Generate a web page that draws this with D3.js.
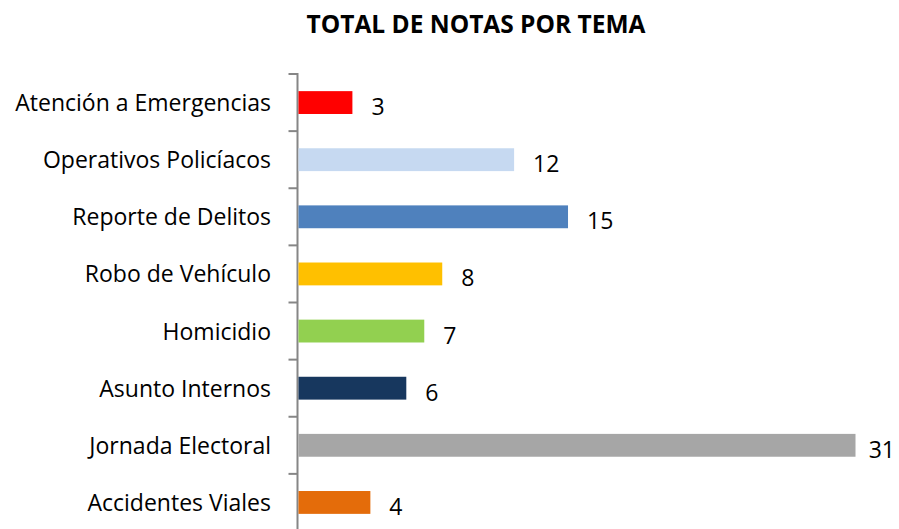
<!DOCTYPE html>
<html>
<head>
<meta charset="utf-8">
<script src="https://cdn.jsdelivr.net/npm/d3@7"></script>
<style>
  body { margin: 0; background: #fff; }
  svg { display: block; }
</style>
</head>
<body>
<div id="chart"></div>
<script>
  // chart data, top to bottom
  var categories = ["Atención a Emergencias", "Operativos Policíacos", "Reporte de Delitos",
    "Robo de Vehículo", "Homicidio", "Asunto Internos", "Jornada Electoral", "Accidentes Viales"];
  var values = [3, 12, 15, 8, 7, 6, 31, 4];
  var colors = ["#FF0000", "#C6D9F1", "#4F81BD", "#FFC000", "#92D050", "#17375E", "#A6A6A6", "#E46C0A"];
  var title = "TOTAL DE NOTAS POR TEMA";

  var width = 899, height = 529;
  var axisX = 297.5;

  var svg = d3.select("#chart").append("svg")
    .attr("width", width)
    .attr("height", height);

  // title
  svg.append("text")
    .attr("x", 476)
    .attr("y", 33)
    .attr("text-anchor", "middle")
    .style("font-family", "'Open Sans', sans-serif")
    .style("font-weight", "bold")
    .style("font-size", "24.5px")
    .attr("fill", "#000")
    .text(title);

  var y = d3.scaleBand()
    .domain(categories)
    .range([74, 531])
    .paddingInner(0.6)
    .paddingOuter(0.3);

  var x = d3.scaleLinear()
    .domain([0, 31])
    .range([0, 557]);

  // y axis with ticks between categories
  var g = svg.append("g");
  var edges = d3.range(categories.length + 1).map(function(i) { return 74 + i * (457 / categories.length); });

  g.append("line")
    .attr("x1", axisX).attr("x2", axisX)
    .attr("y1", 73).attr("y2", height)
    .style("stroke", "#868686")
    .style("stroke-width", 2);

  g.selectAll(".tick")
    .data(edges)
    .enter()
    .append("line")
    .attr("class", "tick")
    .attr("x1", axisX - 9).attr("x2", axisX)
    .attr("y1", function(d) { return d; })
    .attr("y2", function(d) { return d; })
    .style("stroke", "#868686")
    .style("stroke-width", 2);

  // category labels
  g.selectAll(".cat")
    .data(categories)
    .enter()
    .append("text")
    .attr("class", "cat")
    .attr("x", 271)
    .attr("y", function(d) { return y(d) + y.bandwidth() / 2 + 8.5; })
    .attr("text-anchor", "end")
    .style("font-family", "'Open Sans', sans-serif")
    .style("font-size", "23px")
    .attr("fill", "#000")
    .text(function(d) { return d; });

  // bars
  svg.selectAll(".bar")
    .data(values)
    .enter()
    .append("rect")
    .attr("class", "bar")
    .attr("x", axisX + 1)
    .attr("y", function(d, i) { return y(categories[i]); })
    .attr("width", function(d) { return x(d); })
    .attr("height", y.bandwidth())
    .attr("fill", function(d, i) { return colors[i]; });

  // value labels, kept inside the picture
  svg.selectAll(".val")
    .data(values)
    .enter()
    .append("text")
    .attr("class", "val")
    .attr("y", function(d, i) { return y(categories[i]) + y.bandwidth() / 2 + 12.5; })
    .style("font-family", "'Open Sans', sans-serif")
    .style("font-size", "23px")
    .attr("fill", "#000")
    .text(function(d) { return d; })
    .attr("x", function(d) {
      var w = this.getComputedTextLength();
      return Math.min(axisX + 1 + x(d) + 19, width - w - 4);
    });
</script>
</body>
</html>
